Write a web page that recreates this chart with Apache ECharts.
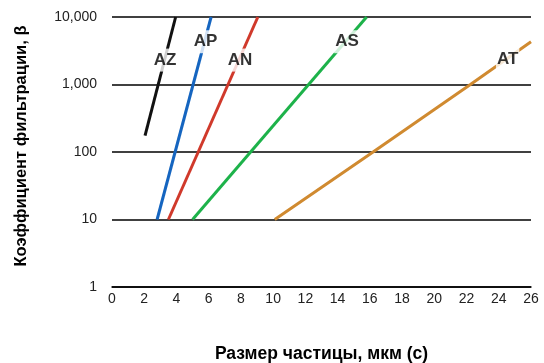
<!DOCTYPE html>
<html><head><meta charset="utf-8">
<script src="https://cdn.jsdelivr.net/npm/echarts@6/dist/echarts.min.js"></script>
<style>html,body{margin:0;padding:0;background:#fff}#c{width:544px;height:363px}</style>
</head><body><div id="c"></div>
<script>
const xTicks = [0,2,4,6,8,10,12,14,16,18,20,22,24,26];
const yTicks = [1,10,100,1000,10000];
const seriesNames = ['AZ','AP','AN','AS','AT'];
const AZ = [[2.05,175],[3.95,10000]];
const AP = [[2.8,10],[6.15,10000]];
const AN = [[3.5,10],[9.05,10000]];
const AS = [[5.0,10],[15.8,10000]];
const AT = [[10.1,10],[16.2,100],[22.24,1000],[26,4300]];
const labelAnchors = [[3.29,2300],[5.8,4300],[7.95,2300],[14.58,4300],[24.55,2350]];
const colors = ['#111111','#1565c0','#d0392b','#1db24a','#d08a30'];
const lines = [AZ,AP,AN,AS,AT];

const chart = echarts.init(document.getElementById('c'), null, {renderer:'canvas'});
const font = 'Liberation Sans, Arial, Helvetica, sans-serif';
const series = lines.map((d,i)=>({
  type:'line', data:d, showSymbol:false, symbol:'none',
  lineStyle:{color:colors[i], width:3}, z:3, silent:true
}));
series.push({
  type:'scatter', symbolSize:0, z:10, silent:true,
  data: labelAnchors.map((p,i)=>({value:p, name:seriesNames[i]})),
  label:{show:true, position:'inside', formatter:p=>p.name, color:'#000',
    fontFamily:font, fontWeight:'bold', fontSize:17, backgroundColor:'#fff', padding:[3,1]}
});
chart.setOption({
  animation:false,
  grid:{left:112, right:13, top:17, bottom:76, containLabel:false, outerBoundsMode:'none'},
  xAxis:{type:'value', min:0, max:26, interval:2,
    name:'Размер частицы, мкм (с)', nameLocation:'middle', nameGap:58,
    nameTextStyle:{fontFamily:font, fontWeight:'bold', fontSize:17.5, color:'#000'},
    axisLine:{show:true, lineStyle:{color:'#000', width:1.5}}, axisTick:{show:false},
    splitLine:{show:false},
    axisLabel:{fontFamily:font, fontSize:14, color:'#222', margin:5}},
  yAxis:{type:'log', logBase:10, min:1, max:10000,
    name:'Коэффициент фильтрации, β', nameLocation:'middle', nameGap:82, nameRotate:90,
    nameTextStyle:{fontFamily:font, fontWeight:'bold', fontSize:16.5, color:'#000', padding:[0,0,0,12]},
    axisLine:{show:false}, axisTick:{show:false},
    splitLine:{show:true, lineStyle:{color:'#000', width:1.5}},
    axisLabel:{fontFamily:font, fontSize:14, color:'#222', margin:15,
      formatter:v=>Number(v).toLocaleString('en-US')}},
  series:series
});
</script></body></html>
